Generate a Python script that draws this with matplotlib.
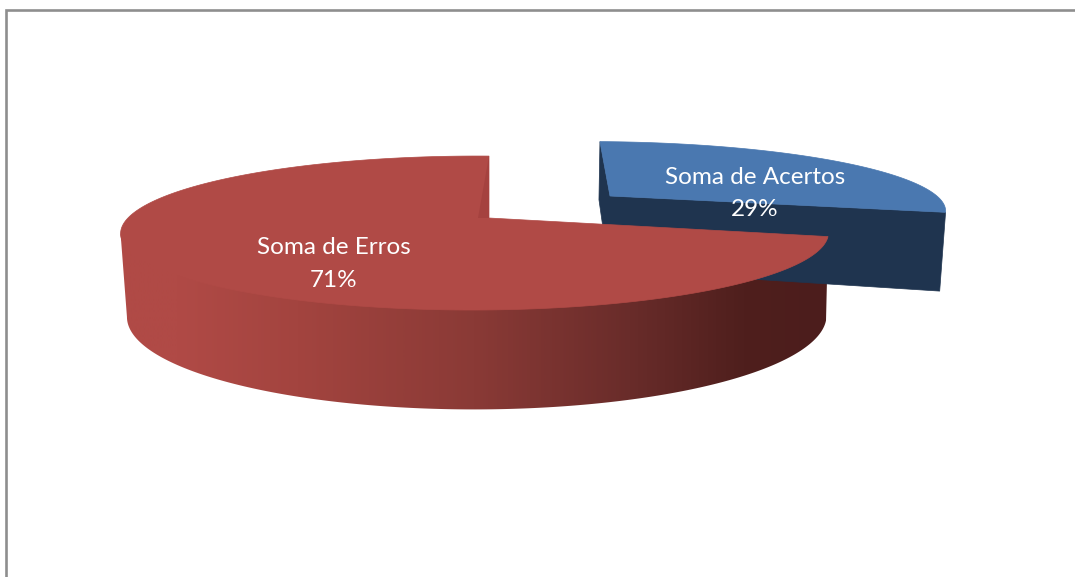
import numpy as np
import matplotlib
matplotlib.use('Agg')
import matplotlib.pyplot as plt
from matplotlib.colors import LinearSegmentedColormap
from matplotlib.patches import Polygon

# Chart data
labels = ['Soma de Acertos', 'Soma de Erros']
shares = [29, 71]
label_pos = [(755, 193.5), (334, 264)]

blue_top = '#4A78B0'
blue_side = '#1F344F'
red_top = '#B04A46'
red_cut = '#A5423F'
frame_col = '#8E8E8E'

# Camera: (x0, y0, A, B, skew) for each rim, shared perspective k and m
k = 0.195
m = 0.04
red_upper = (489, 218, 346.6, 74, 0)
red_lower = (491, 298, 342.5, 89.6, 0)
blue_upper = (610, 196, 340, 65, -12)
blue_lower = (609, 270, 335, 84, -12)


def project(theta, cam):
    # theta in degrees, clockwise from the back of the pie
    x0, y0, a, b, skew = cam
    t = np.radians(theta)
    sx, sy = np.sin(t), np.cos(t)
    w = 1 + k * sy + m * sx
    return np.column_stack([x0 + (a * sx + skew * sy) / w, y0 - b * sy / w])


fig = plt.figure(figsize=(10.75, 5.77), dpi=100)
ax = fig.add_axes([0, 0, 1, 1])

# Frame, no bottom or right side visible
ax.plot([6, 6, 1075], [577, 10, 10], color=frame_col, lw=1.9, solid_joinstyle='miter')

split = 360 * shares[0] / sum(shares)

# Blue slice, pulled out
blue_arc = np.linspace(0, split, 100)
blue_rim = project(blue_arc, blue_upper)
blue_low = project(np.array([0, split]), blue_lower)
side = np.array([blue_rim[0], blue_low[0], blue_lower[:2], blue_low[1], blue_rim[-1],
                 blue_upper[:2]], dtype=float)
ax.add_patch(Polygon(side, closed=True, fc=blue_side, ec=blue_side, lw=0.5))
top = np.vstack([[blue_upper[:2]], blue_rim])
ax.add_patch(Polygon(top, closed=True, fc=blue_top, ec=blue_top, lw=0.5))

# Red slice top rim
red_arc = np.linspace(split, 360, 400)
red_rim = project(red_arc, red_upper)

# Red slice wall, shaded left to right, up to the left silhouette
wall_cmap = LinearSegmentedColormap.from_list('wall', [
    (0.0, red_top), (0.08, '#B04A46'), (0.25, '#A3443F'), (0.5, '#8A3A36'),
    (0.72, '#692C2A'), (0.88, '#4F1F1D'), (1.0, '#4C1D1C')])
left = np.argmin(red_rim[:, 0])
steps = red_arc[:left + 1]
# upper edge runs a little inside the top face so no light seam shows
inner = np.array(red_upper[:2]) + 0.98 * (project(steps, red_upper) - np.array(red_upper[:2]))
wall = np.vstack([red_rim[:1], inner, red_rim[left:left + 1], project(steps[::-1], red_lower)])
wall_patch = Polygon(wall, closed=True, fc='none', ec='none')
ax.add_patch(wall_patch)
shade = ax.imshow(np.linspace(0, 1, 512)[None, :], cmap=wall_cmap, aspect='auto',
                  extent=(120, 829, 577, 0), interpolation='bilinear')
shade.set_clip_path(wall_patch)

# Red slice top and the small face of the cut
top = np.vstack([[red_upper[:2]], red_rim])
ax.add_patch(Polygon(top, closed=True, fc=red_top, ec=red_top, lw=0.5))
cut = [red_rim[-1], red_upper[:2], (red_upper[0] - 11, red_upper[1])]
ax.add_patch(Polygon(cut, closed=True, fc=red_cut, ec='none'))

# Data labels
for name, val, (x, y) in zip(labels, shares, label_pos):
    ax.text(x, y, f'{name}\n{val}%', color='white', fontsize=17.5, family='Lato',
            ha='center', va='center', linespacing=1.65)

ax.set_xlim(0, 1075)
ax.set_ylim(577, 0)
ax.axis('off')

fig.savefig('out.png', dpi=100)
